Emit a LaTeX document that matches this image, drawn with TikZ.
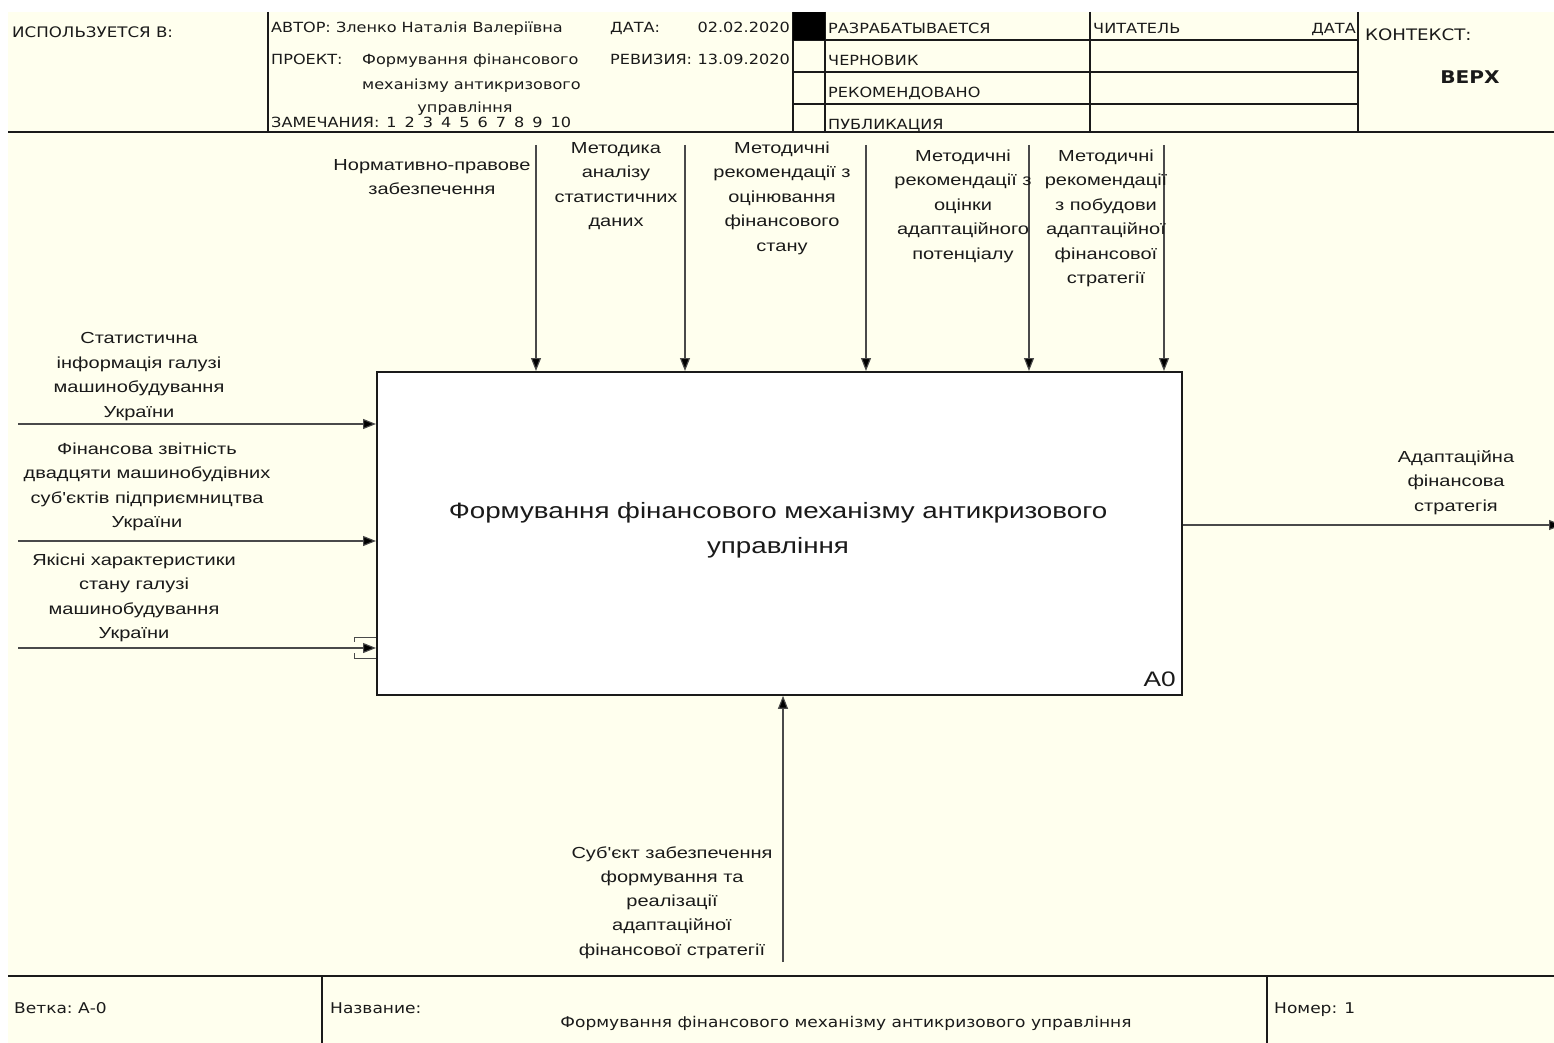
\documentclass[tikz,border=0pt]{standalone}
\usepackage{fontspec}
\setmainfont{Liberation Sans}
\newfontfamily\hdrfont[FakeStretch=1.15]{DejaVu Sans}
\newfontfamily\lblfont[FakeStretch=1.25]{Liberation Sans}
\usetikzlibrary{arrows.meta}
\definecolor{paper}{HTML}{FFFFEE}
\definecolor{wire}{HTML}{4A4A4A}
\definecolor{ink}{HTML}{1A1A1A}
\begin{document}
\begin{tikzpicture}[x=1pt,y=-1pt,
  frame/.style={draw=ink,line width=1.6pt},
  thinframe/.style={draw=ink,line width=1.2pt},
  hdr/.style={inner sep=0,anchor=base west,font=\hdrfont\fontsize{14}{16}\selectfont,text=ink},
  lbl/.style={inner sep=0,anchor=base,align=center,text=ink,
    font=\lblfont\fontsize{16}{24.5}\selectfont},
  flow/.style={draw=wire,line width=1.1pt,-{Triangle[length=13pt,width=10pt,fill=black]}},
  tunnel/.style={draw=wire,line width=0.9pt}]
\useasboundingbox (0,0) rectangle (1554,1043);
\fill[white] (0,0) rectangle (1554,1043);
\fill[paper] (8,12) rectangle (1554,1043);

% ---------- header block ----------
\draw[frame] (8,132) -- (1554,132);
\foreach \x in {268,793,825,1090,1358} \draw[thinframe] (\x,12) -- (\x,132);
\foreach \y in {40,72,104} \draw[thinframe] (793,\y) -- (1358,\y);
\fill[black] (793,12) rectangle (825,40);

\node[hdr,font=\hdrfont\fontsize{14.5}{16}\selectfont] (used) at (12,38) {ИСПОЛЬЗУЕТСЯ В:};
\node[hdr] (author) at (271,33) {АВТОР: Зленко Наталія Валеріївна};
\node[hdr] (date) at (610,33) {ДАТА:};
\node[hdr,anchor=base east] (dateval) at (790,33) {02.02.2020};
\node[hdr] (proj) at (271,65) {ПРОЕКТ:};
\node[hdr] (proj1) at (362,65) {Формування фінансового};
\node[hdr] (proj2) at (362,90) {механізму антикризового};
\node[hdr,anchor=base] (proj3) at (465,113) {управління};
\node[hdr] (rev) at (610,65) {РЕВИЗИЯ:};
\node[hdr,anchor=base east] (revval) at (790,65) {13.09.2020};
\node[hdr] (notes) at (271,128) {ЗАМЕЧАНИЯ:\hspace{7pt}1\hspace{8pt}2\hspace{8pt}3\hspace{8pt}4\hspace{8pt}5\hspace{8pt}6\hspace{8pt}7\hspace{8pt}8\hspace{8pt}9\hspace{8pt}10};
\node[hdr] (st1) at (828,34) {РАЗРАБАТЫВАЕТСЯ};
\node[hdr] (st2) at (828,66) {ЧЕРНОВИК};
\node[hdr] (st3) at (828,98) {РЕКОМЕНДОВАНО};
\node[hdr] (st4) at (828,130) {ПУБЛИКАЦИЯ};
\node[hdr] (reader) at (1093,34) {ЧИТАТЕЛЬ};
\node[hdr,anchor=base east] (rdate) at (1356,34) {ДАТА};
\node[hdr,font=\hdrfont\fontsize{15.8}{18}\selectfont] (ctx) at (1365,41) {КОНТЕКСТ:};
\node[hdr,anchor=base,font=\hdrfont\bfseries\fontsize{17.5}{19}\selectfont] (top) at (1470,84) {ВЕРХ};

% ---------- activity box ----------
\node[draw=ink,line width=1.8pt,fill=white,minimum width=805pt,minimum height=323pt,
  anchor=north west,inner sep=0] (a0) at (376,371) {};
\node[inner sep=0,anchor=base,align=center,text=ink,
  font=\lblfont\fontsize{22.2}{35}\selectfont] (title) at (778,553)
  {Формування фінансового механізму антикризового\\управління};
\node[inner sep=0,anchor=base east,text=ink,font=\lblfont\fontsize{21}{24}\selectfont]
  (code) at (1176,686) {А0};

% ---------- controls ----------
\foreach \n/\x in {c1/536,c2/685,c3/866,c4/1029,c5/1164}
  \coordinate (\n) at (\x,145);
\foreach \n in {c1,c2,c3,c4,c5}
  \draw[flow] (\n) -- (\n |- a0.north);
\node[lbl] (lc1) at (432,194.5) {Нормативно-правове\\забезпечення};
\node[lbl] (lc2) at (616,226.5) {Методика\\аналізу\\статистичних\\даних};
\node[lbl] (lc3) at (782,251) {Методичні\\рекомендації з\\оцінювання\\фінансового\\стану};
\node[lbl] (lc4) at (963,259) {Методичні\\рекомендації з\\оцінки\\адаптаційного\\потенціалу};
\node[lbl] (lc5) at (1106,283.5) {Методичні\\рекомендації\\з побудови\\адаптаційної\\фінансової\\стратегії};

% ---------- inputs ----------
\foreach \n/\y in {i1/424,i2/541,i3/648}
  \coordinate (\n) at (18,\y);
\foreach \n in {i1,i2,i3}
  \draw[flow] (\n) -- (\n -| a0.west);
% tunnel brackets on the third input
\draw[tunnel] (a0.west |- 0,637) -- (354,637) -- (354,642);
\draw[tunnel] (a0.west |- 0,658) -- (354,658) -- (354,653);
\node[lbl] (li1) at (139,417) {Статистична\\інформація галузі\\машинобудування\\України};
\node[lbl] (li2) at (147,527.5) {Фінансова звітність\\двадцяти машинобудівних\\суб'єктів підприємництва\\України};
\node[lbl] (li3) at (134,638.5) {Якісні характеристики\\стану галузі\\машинобудування\\України};

% ---------- output ----------
\coordinate (o1) at (1562,525);
\draw[flow] (a0.east |- o1) -- (o1);
\node[lbl] (lo1) at (1456,511) {Адаптаційна\\фінансова\\стратегія};

% ---------- mechanism ----------
\coordinate (m1) at (783,962);
\draw[flow] (m1) -- (m1 |- a0.south);
\node[lbl,font=\lblfont\fontsize{16}{24.25}\selectfont] (lm1) at (672,955)
  {Суб'єкт забезпечення\\формування та\\реалізації\\адаптаційної\\фінансової стратегії};

% ---------- footer ----------
\draw[draw=ink,line width=2.2pt] (8,976) -- (1554,976);
\foreach \x in {322,1267} \draw[thinframe] (\x,977) -- (\x,1043);
\node[hdr,font=\hdrfont\fontsize{14.8}{16}\selectfont] (branch) at (14,1013) {Ветка:\ А-0};
\node[hdr,font=\hdrfont\fontsize{14.8}{16}\selectfont] (name) at (330,1013) {Название:};
\node[hdr,anchor=base,font=\hdrfont\fontsize{14.8}{16}\selectfont] (nameval) at (846,1027)
  {Формування фінансового механізму антикризового управління};
\node[hdr,font=\hdrfont\fontsize{14.8}{16}\selectfont] (num) at (1274,1013) {Номер: 1};
\end{tikzpicture}
\end{document}
